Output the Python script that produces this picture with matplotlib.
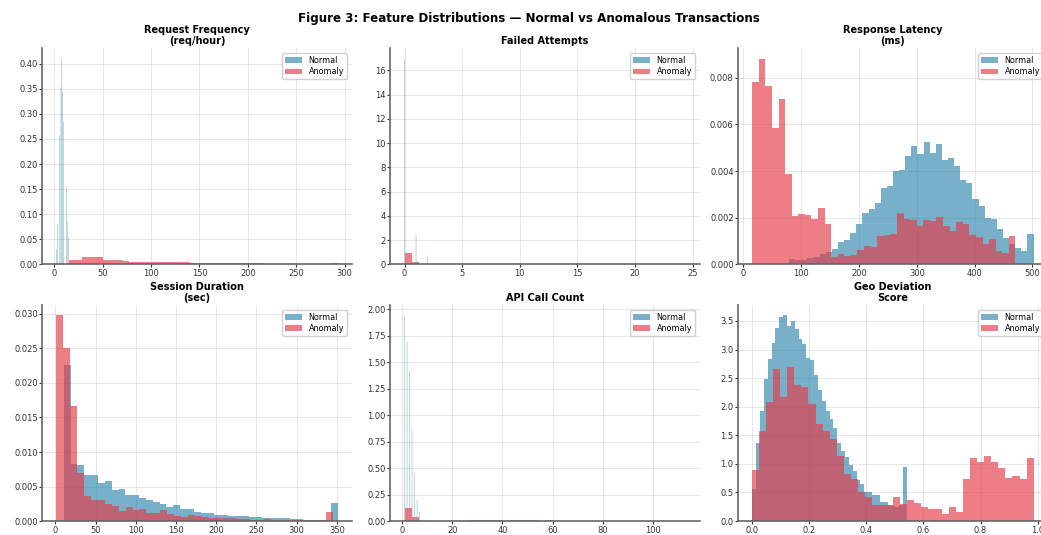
import matplotlib
matplotlib.use('Agg')
import matplotlib.pyplot as plt
import numpy as np

NORMAL_C = '#2E86AB'
ANOM_C = '#E63946'

# --- Request Frequency (req/hour) ---
req_norm_x = [2.2, 3.4, 5.5, 6.7, 7.6, 8.6, 9.6, 12.3, 13.4, 14.8]
req_norm_y = [0.031, 0.081, 0.258, 0.354, 0.41, 0.344, 0.284, 0.155, 0.086, 0.053]
req_anom_range = (15, 293)
req_anom = [0.0095, 0.0095, 0.014, 0.014, 0.0145, 0.0085, 0.0088, 0.009, 0.007, 0.0055,
            0.0055, 0.005, 0.005, 0.004, 0.004, 0.0042, 0.004, 0.004, 0.0038, 0.0035,
            0.0033, 0.003, 0.0033, 0.003, 0.003, 0.0033, 0.0028, 0.0025, 0.0025, 0.0015,
            0.0018, 0.0012, 0.001, 0.0008, 0.0008, 0.0005, 0.0005, 0.0003, 0.0002, 0.0035]

# --- Failed Attempts ---
fail_norm_x = [0, 1, 2]
fail_norm_y = [16.96, 2.46, 0.63]
fail_anom_range = (0, 24.4)
fail_anom = [0.96, 0.19, 0.02, 0.005, 0, 0, 0.002, 0, 0, 0,
             0, 0, 0, 0, 0, 0, 0, 0, 0, 0,
             0, 0, 0, 0, 0, 0, 0, 0, 0, 0,
             0, 0, 0, 0, 0, 0, 0, 0, 0, 0.002]

# --- Response Latency (ms) ---
lat_norm_range = (79, 502)
lat_norm = [0.00024, 0.00018, 0.00018, 0.00027, 0.00033, 0.00043, 0.00053, 0.00067, 0.00095, 0.00104,
            0.00135, 0.00175, 0.0022, 0.00239, 0.00263, 0.00326, 0.00334, 0.004, 0.00406, 0.00466,
            0.00505, 0.00472, 0.00523, 0.00475, 0.00514, 0.00448, 0.00456, 0.00423, 0.0036, 0.0035,
            0.00281, 0.0025, 0.00199, 0.00195, 0.0015, 0.00115, 0.00088, 0.0007, 0.00057, 0.00132]
lat_anom_range = (15.3, 470.6)
lat_anom = [0.00782, 0.00881, 0.00765, 0.00583, 0.00708, 0.00387, 0.00206, 0.00216, 0.0021, 0.00196,
            0.00242, 0.00173, 0.0003, 0.00045, 0.00035, 0.0004, 0.0006, 0.0008, 0.00075, 0.00124,
            0.00126, 0.0013, 0.0022, 0.00196, 0.00192, 0.00166, 0.00189, 0.00188, 0.00203, 0.00166,
            0.00142, 0.0018, 0.00175, 0.00128, 0.00117, 0.00088, 0.0011, 0.00057, 0.0005, 0.0012]

# --- Session Duration (sec) ---
ses_norm_range = (10.5, 351)
ses_norm = [0.0226, 0.0082, 0.0081, 0.0066, 0.0066, 0.0055, 0.0058, 0.0045, 0.0046, 0.0038,
            0.0038, 0.0033, 0.0030, 0.0027, 0.0025, 0.0021, 0.0023, 0.0018, 0.0017, 0.0013,
            0.0012, 0.0011, 0.0009, 0.0009, 0.0007, 0.0007, 0.0007, 0.0006, 0.0006, 0.0005,
            0.0005, 0.0004, 0.0004, 0.0003, 0.0003, 0.0002, 0.0002, 0.00015, 0.00015, 0.0026]
ses_anom_range = (1.3, 345.5)
ses_anom = [0.0298, 0.0250, 0.0166, 0.0070, 0.0036, 0.0031, 0.0031, 0.0025, 0.0022, 0.0015,
            0.0021, 0.0016, 0.0018, 0.0012, 0.0011, 0.0016, 0.0010, 0.0008, 0.0006, 0.0009,
            0.0007, 0.0006, 0.0005, 0.0004, 0.0005, 0.0004, 0.0003, 0.0003, 0.0002, 0.0002,
            0.0003, 0.0002, 0.00015, 0.0001, 0.0001, 0.0002, 0.0002, 0.0001, 0.00005, 0.0013]

# --- API Call Count ---
api_norm_x = [1, 2, 3, 4, 5, 6, 7]
api_norm_y = [1.943, 1.69, 1.42, 0.874, 0.45, 0.2, 0.09]
api_anom_range = (1, 113)
api_anom = [0.126, 0.038, 0, 0, 0, 0, 0, 0, 0, 0.009,
            0.01, 0.01, 0.009, 0.01, 0, 0.012, 0.012, 0.012, 0.011, 0,
            0.011, 0, 0, 0, 0, 0, 0, 0, 0, 0,
            0, 0, 0, 0, 0, 0, 0, 0, 0, 0.002]

# --- Geo Deviation Score ---
geo_norm_range = (0.0, 0.542)
geo_norm = [0.56, 1.36, 1.93, 2.48, 2.83, 3.12, 3.37, 3.57, 3.60, 3.42,
            3.50, 3.36, 3.19, 3.09, 2.85, 2.82, 2.55, 2.30, 2.10, 1.92,
            1.78, 1.62, 1.37, 1.22, 1.12, 0.98, 0.87, 0.72, 0.65, 0.50,
            0.50, 0.45, 0.45, 0.33, 0.33, 0.29, 0.27, 0.25, 0.28, 0.95]
geo_anom_range = (0.0, 0.986)
geo_anom = [0.89, 1.58, 2.08, 2.66, 2.17, 2.70, 2.38, 2.35, 2.04, 1.69,
            1.58, 1.44, 1.13, 0.82, 0.74, 0.51, 0.42, 0.28, 0.28, 0.28,
            0.42, 0.30, 0.37, 0.31, 0.25, 0.22, 0.22, 0.12, 0.25, 0.16,
            0.74, 1.10, 1.04, 1.14, 1.04, 0.93, 0.75, 0.79, 0.74, 1.10]


def hist_bars(ax, vals, rng, color, label):
    edges = np.linspace(rng[0], rng[1], len(vals) + 1)
    ax.bar(edges[:-1], vals, width=np.diff(edges), align='edge',
           color=color, alpha=0.65, linewidth=0, label=label)


def spike_bars(ax, xs, ys, width, color, label):
    # very narrow bins, drawn unsnapped so they come out as pale slivers
    ax.bar(xs, ys, width=width, align='center', color=color, alpha=0.65,
           linewidth=0, label=label, snap=False)


def style(ax, title):
    ax.set_title(title, fontsize=7, fontweight='bold', pad=3, linespacing=1.1)
    ax.spines['top'].set_visible(False)
    ax.spines['right'].set_visible(False)
    for s in ['left', 'bottom']:
        ax.spines[s].set_color('#666666')
        ax.spines[s].set_linewidth(1.2)
    ax.tick_params(labelsize=6, colors='#333333', length=2.2, width=0.8, pad=1.0)
    ax.grid(True, alpha=0.3, linewidth=0.8)
    ax.set_axisbelow(True)
    ax.legend(fontsize=5.8, loc='upper right', framealpha=0.9, handlelength=2.1,
              labelspacing=0.3, borderpad=0.35, borderaxespad=0.6)


fig, axes = plt.subplots(2, 3, figsize=(10.41, 5.35), dpi=100)
fig.subplots_adjust(left=0.0406, right=1.0064, bottom=0.026, top=0.9097,
                    wspace=0.124, hspace=0.187)

ax = axes[0, 0]
spike_bars(ax, req_norm_x, req_norm_y, 0.5, NORMAL_C, 'Normal')
hist_bars(ax, req_anom, req_anom_range, ANOM_C, 'Anomaly')
style(ax, 'Request Frequency\n(req/hour)')

ax = axes[0, 1]
spike_bars(ax, fail_norm_x, fail_norm_y, 0.045, NORMAL_C, 'Normal')
hist_bars(ax, fail_anom, fail_anom_range, ANOM_C, 'Anomaly')
style(ax, 'Failed Attempts')

ax = axes[0, 2]
hist_bars(ax, lat_norm, lat_norm_range, NORMAL_C, 'Normal')
hist_bars(ax, lat_anom, lat_anom_range, ANOM_C, 'Anomaly')
style(ax, 'Response Latency\n(ms)')

ax = axes[1, 0]
hist_bars(ax, ses_norm, ses_norm_range, NORMAL_C, 'Normal')
hist_bars(ax, ses_anom, ses_anom_range, ANOM_C, 'Anomaly')
style(ax, 'Session Duration\n(sec)')

ax = axes[1, 1]
spike_bars(ax, api_norm_x, api_norm_y, 0.2, NORMAL_C, 'Normal')
hist_bars(ax, api_anom, api_anom_range, ANOM_C, 'Anomaly')
style(ax, 'API Call Count')

ax = axes[1, 2]
hist_bars(ax, geo_norm, geo_norm_range, NORMAL_C, 'Normal')
hist_bars(ax, geo_anom, geo_anom_range, ANOM_C, 'Anomaly')
style(ax, 'Geo Deviation\nScore')

fig.suptitle('Figure 3: Feature Distributions \u2014 Normal vs Anomalous Transactions',
             fontsize=8.6, fontweight='bold', x=0.5077, y=0.978)

fig.savefig('out.png', dpi=100)
